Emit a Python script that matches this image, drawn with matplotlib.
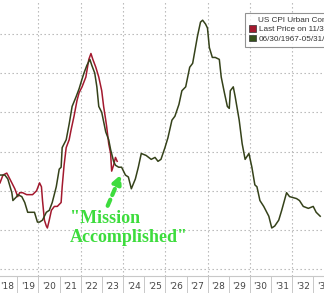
import matplotlib.pyplot as plt
from matplotlib.patches import FancyArrowPatch

# current CPI YoY (red), 2018 - Nov 2023
red_x = [2018.18, 2018.32, 2018.50, 2018.55, 2018.74, 2018.88, 2019.02, 2019.11, 2019.25,
         2019.44, 2019.58, 2019.72, 2019.91, 2020.05, 2020.14, 2020.19, 2020.28, 2020.37,
         2020.42, 2020.51, 2020.61, 2020.75, 2020.89, 2021.07, 2021.12, 2021.21, 2021.31,
         2021.45, 2021.54, 2021.68, 2021.82, 2021.92, 2022.06, 2022.24, 2022.38, 2022.48,
         2022.57, 2022.71, 2022.85, 2022.99, 2023.08, 2023.18, 2023.22, 2023.32, 2023.41,
         2023.46, 2023.55, 2023.64, 2023.72]
red_y = [2.4, 2.8, 2.9, 2.8, 2.4, 2.1, 1.7, 1.9, 1.9,
         1.8, 1.8, 1.8, 2.0, 2.4, 2.2, 1.5, 0.5, 0.2,
         0.1, 0.5, 1.0, 1.2, 1.2, 1.4, 2.2, 3.3, 4.2,
         4.6, 5.1, 5.8, 6.6, 7.0, 7.3, 7.8, 8.7, 9.0,
         8.7, 8.3, 7.8, 7.1, 6.3, 5.6, 5.3, 4.4, 3.9,
         3.0, 3.3, 3.7, 3.5]

# 1967-1983 CPI YoY (green), shifted onto today's calendar
green_x = [2018.18, 2018.41, 2018.55, 2018.74, 2018.79, 2018.97, 2019.02, 2019.21, 2019.35,
           2019.49, 2019.67, 2019.81, 2019.95, 2020.05, 2020.19, 2020.37, 2020.51, 2020.65,
           2020.84, 2020.98, 2021.07, 2021.12, 2021.31, 2021.45, 2021.59, 2021.78, 2021.92,
           2022.06, 2022.15, 2022.29, 2022.43, 2022.52, 2022.66, 2022.76, 2022.85, 2022.99,
           2023.18, 2023.32, 2023.41, 2023.55, 2023.64, 2023.79, 2023.93, 2024.11, 2024.25,
           2024.39, 2024.58, 2024.72, 2024.86, 2025.09, 2025.33, 2025.51, 2025.65, 2025.79,
           2025.98, 2026.12, 2026.31, 2026.45, 2026.64, 2026.78, 2026.96, 2027.15, 2027.29,
           2027.52, 2027.66, 2027.76, 2027.90, 2027.99, 2028.08, 2028.22, 2028.36, 2028.55,
           2028.64, 2028.79, 2028.93, 2029.02, 2029.07, 2029.21, 2029.30, 2029.49, 2029.63,
           2029.77, 2029.95, 2030.09, 2030.23, 2030.33, 2030.47, 2030.65, 2030.89, 2031.03,
           2031.17, 2031.36, 2031.50, 2031.73, 2031.87, 2032.20, 2032.34, 2032.52, 2032.76,
           2032.99, 2033.13, 2033.32]
green_y = [2.8, 2.8, 2.6, 1.9, 1.5, 1.7, 1.8, 1.7, 1.4,
           0.9, 0.9, 0.9, 0.4, 0.4, 0.5, 0.9, 1.0, 1.4,
           2.2, 3.1, 3.2, 4.2, 4.6, 5.4, 6.3, 6.8, 7.2,
           7.7, 8.0, 8.4, 8.7, 8.4, 8.0, 7.3, 6.3, 6.0,
           5.0, 4.6, 4.1, 3.5, 3.3, 3.2, 3.2, 2.8, 2.7,
           2.1, 2.6, 3.2, 3.9, 3.8, 3.6, 3.7, 3.5, 3.6,
           4.2, 4.7, 5.6, 5.8, 6.4, 7.1, 7.3, 8.3, 8.5,
           9.9, 10.6, 10.7, 10.5, 10.3, 9.3, 8.8, 8.8, 8.7,
           7.8, 7.0, 6.3, 6.2, 7.1, 7.3, 6.8, 5.6, 4.4,
           3.6, 3.9, 3.2, 2.3, 2.2, 1.5, 1.2, 0.7, 0.1,
           0.2, 0.5, 1.0, 1.9, 1.7, 1.6, 1.5, 1.2, 1.1,
           1.2, 0.9, 0.7]

years = list(range(2018, 2034))
year_labels = ["'" + str(y)[2:] for y in years]
y_grid = [-2, 0, 2, 4, 6, 8, 10]

fig = plt.figure(figsize=(3.24, 2.93), dpi=100)
ax = fig.add_axes([0, 17 / 293, 1, 276 / 293])

ax.plot(red_x, red_y, color='#a3192e', lw=1.1, zorder=3)
ax.plot(green_x, green_y, color='#35421a', lw=1.1, zorder=4)

ax.set_xlim(2018.18, 2033.32)
ax.set_ylim(-2.35, 11.73)

# dotted grid
for yy in y_grid:
    ax.axhline(yy, color='#b0b0b0', lw=0.8, ls=(0, (1.2, 2.4)), zorder=1)
for xx in range(2020, 2034, 2):
    ax.axvline(xx, color='#b0b0b0', lw=0.8, ls=(0, (1.2, 2.4)), zorder=1)

# bloomberg-style date band
ax.set_xticks([y + 0.5 for y in years])
ax.set_xticklabels(year_labels)
ax.set_xticks(range(2019, 2034), minor=True)
ax.tick_params(axis='x', which='major', length=0, pad=4, labelsize=6.5, colors='#444444')
ax.tick_params(axis='x', which='minor', length=12.5, width=0.7, color='#c8c8c8')
ax.set_yticks([])
for s in ['top', 'left', 'right']:
    ax.spines[s].set_visible(False)
ax.spines['bottom'].set_color('#c8c8c8')
ax.spines['bottom'].set_linewidth(0.8)

# legend, runs off the right edge like the source
leg_handles = [plt.Rectangle((0, 0), 1, 1, fc='#a3192e', ec='#333333', lw=0.5),
               plt.Rectangle((0, 0), 1, 1, fc='#35521a', ec='#333333', lw=0.5)]
leg = ax.legend(leg_handles, ['Last Price on 11/30/2023', '06/30/1967-05/31/1983'],
                title='    US CPI Urban Consumers YoY NSA', loc='upper left',
                bbox_to_anchor=(0.757, 0.952), prop={'family': 'Liberation Sans', 'size': 5.9},
                title_fontproperties={'family': 'Liberation Sans', 'size': 5.9},
                frameon=True, fancybox=False, handlelength=0.9, handleheight=0.9,
                handletextpad=0.3, borderpad=0.45, labelspacing=0.15, borderaxespad=0)
leg.get_frame().set_edgecolor('#777777')
leg.get_frame().set_linewidth(0.8)
leg._legend_box.align = 'left'
leg.get_title().set_color('#333333')
for t in leg.get_texts():
    t.set_color('#333333')

# annotation
ax.text(2021.5, 0.1, '"Mission\nAccomplished"', color='#3ddc3d', fontsize=13,
        fontweight='bold', family='Liberation Serif', ha='left', va='center',
        linespacing=1.1, zorder=5)
arr = FancyArrowPatch((2023.22, 1.1), (2023.95, 2.95), arrowstyle='-|>', mutation_scale=12,
                      color='#3ddc3d', lw=3, ls=(0, (1.6, 1.2)), zorder=5)
ax.add_patch(arr)

fig.savefig('out.png', dpi=100)
